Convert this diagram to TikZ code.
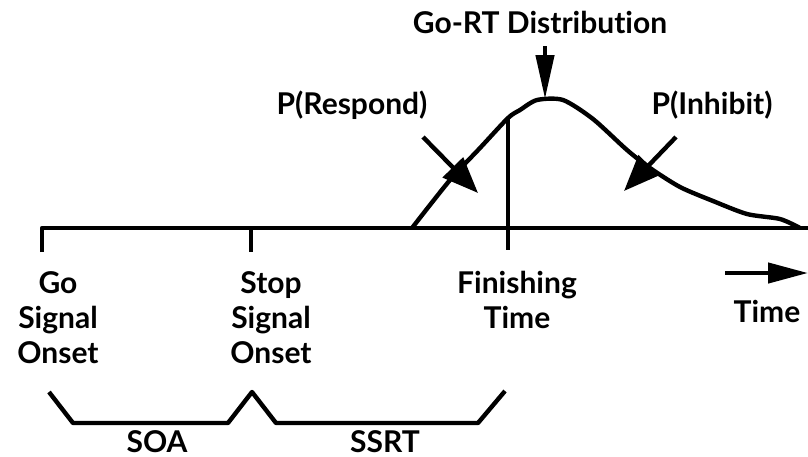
\documentclass[tikz,border=0pt]{standalone}
\usepackage{fontspec}
\setmainfont{Lato}[Ligatures={NoCommon}]
\usetikzlibrary{arrows.meta}

\begin{document}
\begin{tikzpicture}[
    x=0.5pt, y=-0.5pt, line width=2.2pt, line join=round,
    lbl/.style={font=\fontsize{15}{17.5}\selectfont\bfseries, inner sep=0pt,
                align=center, anchor=base},
    pointer/.style={-{Triangle[length=18pt, width=14pt]}},
    peak/.style={-{Triangle[length=22pt, width=9pt]}},
    timearrow/.style={-{Triangle[length=20pt, width=10pt]}}
]
\useasboundingbox (0,0) rectangle (808,456);
% time axis
\coordinate (go) at (42,228);
\coordinate (stop) at (251,228);
\coordinate (axisend) at (808,228);
\draw (42,252) -- (go) -- (axisend);
\draw (stop) -- (251,252);
% go-RT distribution
\draw plot[smooth, tension=0.45] coordinates {(412,228) (450,180) (480,148)
    (508,118) (520,110) (537,100) (563,100) (593,119) (627,150) (650,168)
    (680,187) (713,201) (747,214) (780,219) (800,228)};
\coordinate (finish) at (508,118);
\draw (finish) -- (508,250);
% labels
\node[lbl] (gort) at (540,33) {Go-RT Distribution};
\node[lbl] (respond) at (352,114) {P(Respond)};
\node[lbl] (inhibit) at (712,114) {P(Inhibit)};
\node[lbl] (golbl) at (58,363) {Go\\Signal\\Onset};
\node[lbl] (stoplbl) at (271,363) {Stop\\Signal\\Onset};
\node[lbl] (finlbl) at (517,328) {Finishing\\Time};
\node[lbl] (timelbl) at (767,322) {Time};
\node[lbl] (soa) at (157,452) {SOA};
\node[lbl] (ssrt) at (385,452) {SSRT};
% arrows
\coordinate (gortA) at (545,46);
\coordinate (gortB) at (545,99);
\draw[peak] (gortA) -- (gortB);
\coordinate (respA) at (423,137);
\coordinate (respB) at (478,193);
\draw[pointer] (respA) -- (respB);
\coordinate (inhA) at (676,137);
\coordinate (inhB) at (624,191);
\draw[pointer] (inhA) -- (inhB);
\coordinate (timeA) at (725,273);
\coordinate (timeB) at (808,273);
\draw[timearrow] (timeA) -- (timeB);
% brackets
\draw (49,392) -- (73,423) -- (228,423) -- (252,392) -- (276,423)
    -- (478,423) -- (505,391);
\end{tikzpicture}
\end{document}
